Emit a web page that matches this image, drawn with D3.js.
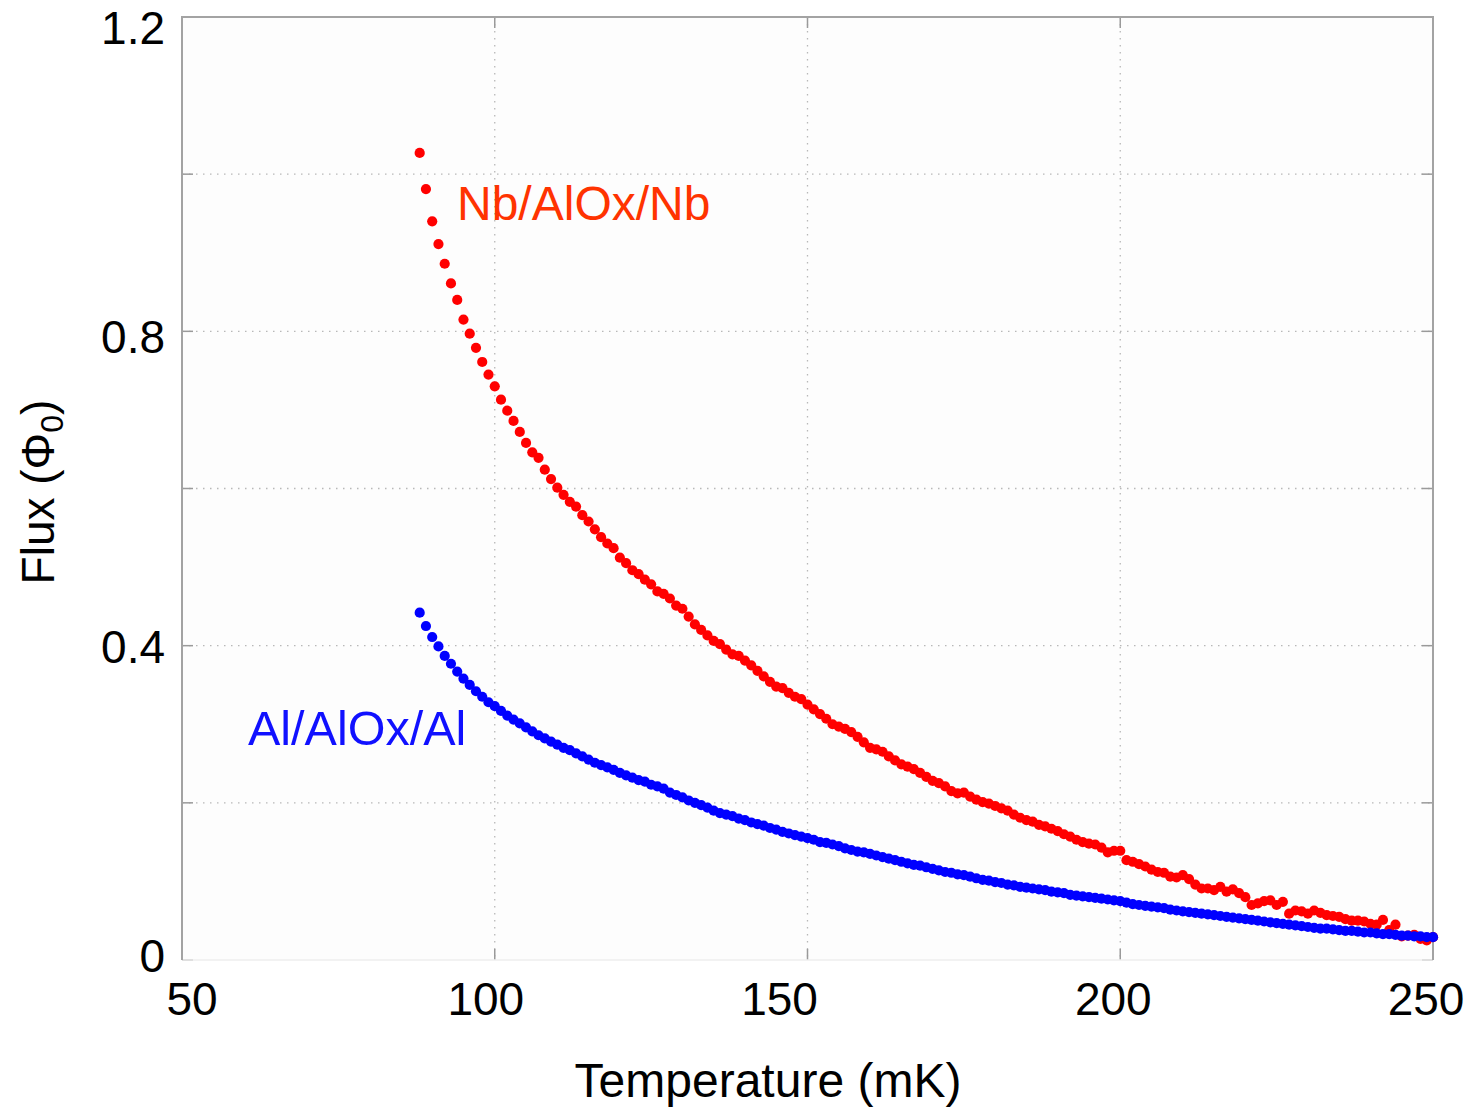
<!DOCTYPE html>
<html>
<head>
<meta charset="utf-8">
<script src="https://cdn.jsdelivr.net/npm/d3@7"></script>
<style>
  html, body { margin: 0; padding: 0; background: #ffffff; }
  svg { display: block; font-family: "Liberation Sans", Arial, Helvetica, sans-serif; }
</style>
</head>
<body>
<svg id="chart" width="1475" height="1113"></svg>
<script>
// ---- data ----
const temperatures = [88,89,90,91,92,93,94,95,96,97,98,99,100,101,102,103,104,105,106,107,108,109,110,111,112,113,114,115,116,117,118,119,120,121,122,123,124,125,126,127,128,129,130,131,132,133,134,135,136,137,138,139,140,141,142,143,144,145,146,147,148,149,150,151,152,153,154,155,156,157,158,159,160,161,162,163,164,165,166,167,168,169,170,171,172,173,174,175,176,177,178,179,180,181,182,183,184,185,186,187,188,189,190,191,192,193,194,195,196,197,198,199,200,201,202,203,204,205,206,207,208,209,210,211,212,213,214,215,216,217,218,219,220,221,222,223,224,225,226,227,228,229,230,231,232,233,234,235,236,237,238,239,240,241,242,243,244,245,246,247,248,249,250];

const fluxNb = [1.027,0.981,0.940,0.911,0.886,0.861,0.840,0.815,0.797,0.779,0.761,0.745,0.730,0.713,0.699,0.686,0.672,0.658,0.646,0.639,0.624,0.612,0.601,0.592,0.583,0.577,0.566,0.558,0.548,0.538,0.530,0.524,0.512,0.505,0.496,0.491,0.484,0.478,0.469,0.466,0.460,0.451,0.447,0.437,0.427,0.420,0.413,0.406,0.402,0.395,0.389,0.387,0.381,0.375,0.368,0.361,0.354,0.348,0.346,0.340,0.335,0.332,0.325,0.319,0.313,0.307,0.300,0.297,0.294,0.290,0.284,0.277,0.270,0.268,0.265,0.259,0.254,0.249,0.246,0.243,0.238,0.233,0.228,0.225,0.221,0.215,0.212,0.213,0.208,0.204,0.201,0.199,0.196,0.193,0.190,0.185,0.181,0.178,0.176,0.172,0.170,0.167,0.164,0.160,0.157,0.153,0.150,0.148,0.147,0.143,0.137,0.139,0.139,0.127,0.125,0.122,0.119,0.115,0.112,0.111,0.106,0.105,0.108,0.103,0.096,0.091,0.091,0.089,0.093,0.087,0.090,0.085,0.080,0.070,0.072,0.075,0.076,0.070,0.074,0.059,0.063,0.062,0.059,0.063,0.060,0.057,0.056,0.055,0.052,0.050,0.050,0.049,0.046,0.045,0.051,0.038,0.045,0.030,0.031,0.032,0.027,0.025,0.029];

const fluxAl = [0.442,0.425,0.411,0.399,0.387,0.377,0.367,0.358,0.350,0.342,0.335,0.328,0.323,0.317,0.311,0.306,0.301,0.296,0.291,0.286,0.282,0.278,0.274,0.270,0.267,0.263,0.259,0.255,0.251,0.248,0.245,0.242,0.238,0.235,0.232,0.229,0.227,0.223,0.221,0.218,0.213,0.210,0.207,0.203,0.200,0.197,0.194,0.190,0.187,0.185,0.183,0.180,0.178,0.175,0.173,0.171,0.168,0.166,0.163,0.161,0.159,0.157,0.155,0.153,0.150,0.149,0.147,0.145,0.142,0.140,0.138,0.137,0.135,0.133,0.131,0.129,0.127,0.125,0.123,0.121,0.120,0.118,0.116,0.114,0.112,0.111,0.109,0.108,0.106,0.104,0.102,0.101,0.099,0.098,0.096,0.095,0.093,0.092,0.091,0.090,0.089,0.087,0.086,0.085,0.083,0.082,0.081,0.080,0.079,0.078,0.077,0.076,0.075,0.073,0.071,0.070,0.069,0.068,0.067,0.066,0.064,0.063,0.062,0.061,0.060,0.059,0.058,0.057,0.056,0.055,0.054,0.053,0.052,0.051,0.050,0.049,0.048,0.047,0.046,0.045,0.044,0.043,0.042,0.041,0.040,0.040,0.039,0.038,0.037,0.037,0.036,0.035,0.035,0.034,0.033,0.033,0.032,0.031,0.031,0.030,0.030,0.029,0.029];

const xTickValues = [50, 100, 150, 200, 250];
const yGridValues = [0, 0.2, 0.4, 0.6, 0.8, 1.0, 1.2];
const yTickLabels = [0, 0.4, 0.8, 1.2];
const seriesNames = ["Nb/AlOx/Nb", "Al/AlOx/Al"];

// ---- layout ----
const svg = d3.select("#chart");
const plot = { left: 182, right: 1433, top: 17, bottom: 960 };
// horizontal nudges of the x tick labels relative to their ticks (as in the reference)
const xLabelNudge = { 50: 10, 100: -9, 150: -28, 200: -7, 250: -7 };

const x = d3.scaleLinear().domain([50, 250]).range([plot.left, plot.right]);
const y = d3.scaleLinear().domain([0, 1.2]).range([plot.bottom, plot.top]);

// plot background
svg.append("rect")
  .attr("x", plot.left).attr("y", plot.top)
  .attr("width", plot.right - plot.left).attr("height", plot.bottom - plot.top)
  .attr("fill", "#fdfdfd");

// grid lines (dotted)
const grid = svg.append("g").attr("stroke", "#b8b8b8").attr("stroke-width", 1.3)
  .attr("stroke-dasharray", "1.5,5.5");
grid.selectAll(".gx").data(xTickValues.slice(1, -1)).enter().append("line")
  .attr("x1", d => x(d)).attr("x2", d => x(d))
  .attr("y1", plot.top).attr("y2", plot.bottom);
grid.selectAll(".gy").data(yGridValues.slice(1, -1)).enter().append("line")
  .attr("x1", plot.left).attr("x2", plot.right)
  .attr("y1", d => y(d)).attr("y2", d => y(d));

// inner tick marks
const ticks = svg.append("g").attr("stroke", "#9a9a9a").attr("stroke-width", 1.5);
const tl = 11;
yGridValues.forEach(v => {
  ticks.append("line").attr("x1", plot.left).attr("x2", plot.left + tl).attr("y1", y(v)).attr("y2", y(v));
  ticks.append("line").attr("x1", plot.right - tl).attr("x2", plot.right).attr("y1", y(v)).attr("y2", y(v));
});
xTickValues.forEach(v => {
  ticks.append("line").attr("x1", x(v)).attr("x2", x(v)).attr("y1", plot.bottom).attr("y2", plot.bottom - tl);
  ticks.append("line").attr("x1", x(v)).attr("x2", x(v)).attr("y1", plot.top).attr("y2", plot.top + tl);
});

// frame: left/top/right grey, bottom very faint
svg.append("line").attr("x1", plot.left).attr("x2", plot.right).attr("y1", plot.bottom).attr("y2", plot.bottom)
  .attr("stroke", "#eeeeee").attr("stroke-width", 1.5);
svg.append("path")
  .attr("d", `M${plot.left},${plot.bottom}V${plot.top}H${plot.right}V${plot.bottom}`)
  .attr("fill", "none").attr("stroke", "#a3a3a3").attr("stroke-width", 2);

// data points
const nbData = temperatures.map((t, i) => ({ t, f: fluxNb[i] }));
const alData = temperatures.map((t, i) => ({ t, f: fluxAl[i] }));

svg.append("g").selectAll("circle").data(nbData).enter().append("circle")
  .attr("cx", d => x(d.t)).attr("cy", d => y(d.f)).attr("r", 5.1).attr("fill", "#ff0000");
svg.append("g").selectAll("circle").data(alData).enter().append("circle")
  .attr("cx", d => x(d.t)).attr("cy", d => y(d.f)).attr("r", 5.1).attr("fill", "#0000ff");

// tick labels
const labelY = d3.scaleLinear().domain([0, 1.2]).range([972, 44]);
svg.append("g").selectAll("text").data(yTickLabels).enter().append("text")
  .attr("x", 165).attr("y", d => labelY(d))
  .attr("text-anchor", "end").attr("font-size", 46).attr("fill", "#000")
  .text(d => d === 0 ? "0" : d3.format(".1f")(d));

svg.append("g").selectAll("text").data(xTickValues).enter().append("text")
  .attr("x", d => x(d) + xLabelNudge[d]).attr("y", 1015)
  .attr("text-anchor", "middle").attr("font-size", 46).attr("fill", "#000")
  .text(d => d);

// axis titles
svg.append("text").attr("x", 768).attr("y", 1097).attr("text-anchor", "middle")
  .attr("font-size", 48).attr("fill", "#000").text("Temperature (mK)");

const yt = svg.append("text").attr("transform", "translate(54,492) rotate(-90)")
  .attr("text-anchor", "middle").attr("font-size", 46).attr("fill", "#000");
yt.append("tspan").text("Flux (Φ");
yt.append("tspan").attr("font-size", 32).attr("dy", 9).text("0");
yt.append("tspan").attr("dy", -9).text(")");

// series labels
svg.append("text").attr("x", 457).attr("y", 220).attr("font-size", 48)
  .attr("fill", "#ff3300").text(seriesNames[0]);
svg.append("text").attr("x", 248).attr("y", 745).attr("font-size", 48.5)
  .attr("fill", "#1010ff").text(seriesNames[1]);
</script>
</body>
</html>
